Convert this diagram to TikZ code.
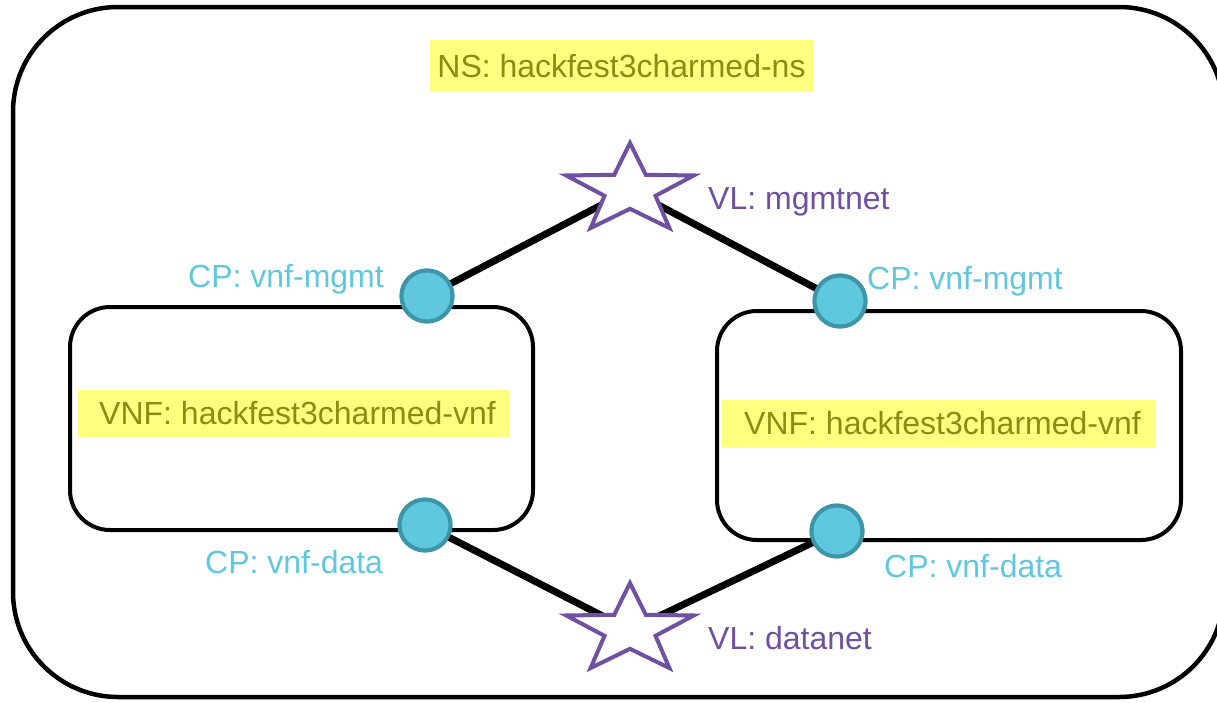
\documentclass[tikz,border=0pt]{standalone}
\usepackage{fontspec}
\setmainfont{Liberation Sans}
\definecolor{hlyellow}{RGB}{255,255,128}
\definecolor{olivetext}{RGB}{140,140,20}
\definecolor{cptext}{RGB}{95,200,223}
\definecolor{cpfill}{RGB}{95,200,223}
\definecolor{cpedge}{RGB}{60,150,168}
\definecolor{vlcol}{RGB}{112,80,160}
\tikzset{
  frame/.style={draw=black, line width=4.5pt, rounded corners=105pt},
  vnfbox/.style={draw=black, line width=4pt, rounded corners=40pt},
  link/.style={draw=black, line width=7pt},
  cp/.style={circle, fill=cpfill, draw=cpedge, line width=4pt, minimum size=51pt, inner sep=0pt},
  vlstar/.style={draw=vlcol, fill=white, line width=4pt, line join=miter},
  hl/.style={fill=hlyellow, text=olivetext, font=\fontsize{32}{38}\selectfont, inner sep=0pt},
  cplabel/.style={text=cptext, font=\fontsize{32}{38}\selectfont, anchor=base west, inner sep=0pt},
  vllabel/.style={text=vlcol, font=\fontsize{32}{38}\selectfont, anchor=base west, inner sep=0pt}
}
\newcommand{\vlshape}{(90:1) -- (126:0.4) -- (162:1) -- (198:0.4) -- (234:1) -- (270:0.4) -- (306:1) -- (342:0.4) -- (18:1) -- (54:0.4) -- cycle}
\begin{document}
\begin{tikzpicture}[x=1pt,y=-1pt]
\useasboundingbox (0,0) rectangle (1217,702);
\clip (0,0) rectangle (1217,702);
\fill[white] (0,0) rectangle (1217,702);
% outer NS frame
\draw[frame] (13,7) rectangle (1224,697);
% VNF boxes
\draw[vnfbox] (70,307) rectangle (533,530);
\draw[vnfbox] (717,311) rectangle (1181,540);
% anchor coordinates
\coordinate (vl1) at (630,190);
\coordinate (vl2) at (630,630);
\node[cp] (cp1) at (427,296) {};
\node[cp] (cp2) at (840,301) {};
\node[cp] (cp3) at (425,525) {};
\node[cp] (cp4) at (837,531) {};
% links
\draw[link] (cp1.center) -- (vl1);
\draw[link] (vl1) -- (cp2.center);
\draw[link] (cp3.center) -- (vl2);
\draw[link] (vl2) -- (cp4.center);
% stars
\begin{scope}[shift={(vl1)}, xscale=67, yscale=-47]
\draw[vlstar] \vlshape;
\end{scope}
\begin{scope}[shift={(vl2)}, xscale=67, yscale=-47]
\draw[vlstar] \vlshape;
\end{scope}
% connection point circles on top
\node[cp] at (cp1) {};
\node[cp] at (cp2) {};
\node[cp] at (cp3) {};
\node[cp] at (cp4) {};
% highlighted titles
\node[hl, minimum width=383pt, minimum height=52pt] (ns) at (621.5,66) {NS: hackfest3charmed-ns};
\node[hl, minimum width=431pt, minimum height=47pt] (vnf1) at (293.5,413.5) {\hspace*{8pt}VNF: hackfest3charmed-vnf};
\node[hl, minimum width=433pt, minimum height=47pt] (vnf2) at (938.5,423.5) {\hspace*{8pt}VNF: hackfest3charmed-vnf};
% labels
\node[cplabel] (l1) at (188,287) {CP: vnf-mgmt};
\node[cplabel] (l2) at (867,289) {CP: vnf-mgmt};
\node[cplabel] (l3) at (205,573) {CP: vnf-data};
\node[cplabel] (l4) at (884,577) {CP: vnf-data};
\node[vllabel] (l5) at (708,209) {VL: mgmtnet};
\node[vllabel] (l6) at (708,649) {VL: datanet};
\end{tikzpicture}
\end{document}
